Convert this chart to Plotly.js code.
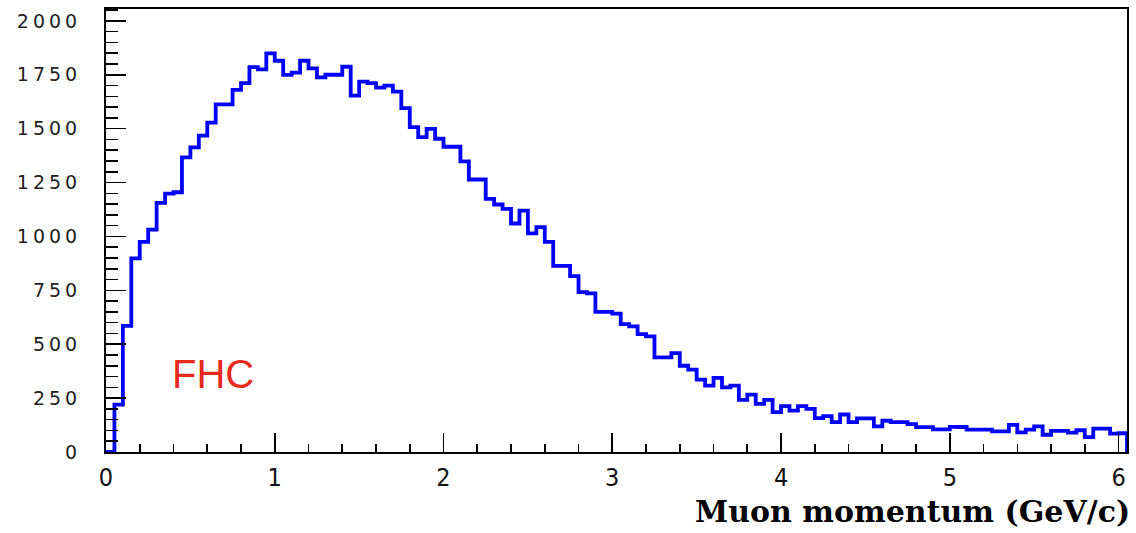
<!DOCTYPE html>
<html>
<head>
<meta charset="utf-8">
<script src="https://cdn.plot.ly/plotly-3.0.1.min.js"></script>
<style>
  html, body { margin: 0; padding: 0; background: #ffffff; }
  #chart { width: 1136px; height: 533px; }
  /* wide spacing for the count labels, like the bitmap font of the original plot */
  #chart .yaxislayer-above .ytick text { letter-spacing: 4px; }
</style>
</head>
<body>
<div id="chart"></div>
<script>
// Histogram definition: 121 bins of 0.05 GeV/c starting at 0
const binLow = 0;
const binWidth = 0.05;

// Entries per bin (muon momentum, FHC sample)
const counts = [
  0, 220, 585, 898, 975, 1032, 1156, 1199, 1205, 1367,
  1413, 1468, 1528, 1613, 1613, 1680, 1711, 1785, 1775, 1849,
  1815, 1749, 1760, 1815, 1780, 1738, 1750, 1750, 1787, 1653,
  1718, 1711, 1690, 1700, 1672, 1595, 1507, 1461, 1499, 1453,
  1416, 1416, 1348, 1264, 1264, 1174, 1148, 1128, 1060, 1120,
  1014, 1043, 975, 863, 863, 816, 742, 736, 650, 650,
  642, 593, 583, 547, 536, 439, 439, 459, 400, 382,
  336, 308, 344, 300, 308, 242, 266, 223, 242, 185,
  213, 192, 213, 200, 157, 166, 139, 174, 139, 156,
  156, 119, 145, 139, 139, 129, 115, 115, 105, 105,
  117, 116, 104, 104, 104, 96, 96, 126, 91, 104,
  119, 80, 98, 98, 90, 101, 69, 108, 108, 85,
  87
];

// Axis tick values
const yTicks = [0, 250, 500, 750, 1000, 1250, 1500, 1750, 2000];
const xTicks = [0, 1, 2, 3, 4, 5, 6];

const sampleLabel = 'FHC';
const xTitle = 'Muon momentum (GeV/c)';

// Build the step outline: left edge of every bin, then close on the last upper edge
const nBins = counts.length;
const stepX = [];
const stepY = [];
for (let i = 0; i < nBins; i++) {
  stepX.push(binLow + i * binWidth);
  stepY.push(counts[i]);
}
const xHigh = binLow + nBins * binWidth;
stepX.push(xHigh, xHigh);
stepY.push(counts[nBins - 1], 0);

const trace = {
  type: 'scatter',
  mode: 'lines',
  x: stepX,
  y: stepY,
  line: { shape: 'hv', color: '#0000ff', width: 3.8 },
  hoverinfo: 'skip',
  showlegend: false
};

const layout = {
  width: 1136,
  height: 533,
  margin: { l: 106, r: 9, t: 9, b: 81 },
  paper_bgcolor: '#ffffff',
  plot_bgcolor: '#ffffff',
  showlegend: false,
  xaxis: {
    range: [binLow, xHigh],
    tickmode: 'array',
    tickvals: xTicks,
    ticktext: xTicks.map(String),
    ticks: 'inside',
    ticklen: 19,
    tickwidth: 1.6,
    tickcolor: '#000000',
    minor: { dtick: 0.2, tick0: 0, ticks: 'inside', ticklen: 8, tickwidth: 1.6, tickcolor: '#000000', showgrid: false },
    showline: true,
    linecolor: '#000000',
    linewidth: 2,
    mirror: true,
    showgrid: false,
    zeroline: false,
    ticklabelstandoff: 2,
    tickfont: { family: 'Liberation Sans Narrow, DejaVu Sans Condensed, Liberation Sans, sans-serif', size: 25, color: '#111111' }
  },
  yaxis: {
    range: [0, 2055],
    tickmode: 'array',
    tickvals: yTicks,
    ticktext: yTicks.map(String),
    ticks: 'inside',
    ticklen: 20,
    tickwidth: 1.6,
    tickcolor: '#000000',
    minor: { dtick: 50, tick0: 0, ticks: 'inside', ticklen: 12, tickwidth: 1.6, tickcolor: '#000000', showgrid: false },
    showline: true,
    linecolor: '#000000',
    linewidth: 2,
    mirror: true,
    showgrid: false,
    zeroline: false,
    ticklabelstandoff: 19,
    tickfont: { family: 'DejaVu Sans, sans-serif', size: 19, color: '#222222' }
  },
  annotations: [
    {
      text: sampleLabel,
      xref: 'x', yref: 'y',
      x: 0.38, y: 363,
      xanchor: 'left', yanchor: 'middle',
      showarrow: false,
      font: { family: 'Liberation Sans, Arial, sans-serif', size: 40, color: '#e8291d' }
    },
    {
      text: xTitle,
      xref: 'paper', yref: 'paper',
      x: 1, y: -0.134,
      xshift: 5,
      xanchor: 'right', yanchor: 'middle',
      showarrow: false,
      font: { family: 'DejaVu Serif, serif', size: 30, weight: 'bold', color: '#000000' }
    }
  ]
};

Plotly.newPlot('chart', [trace], layout, { staticPlot: true, displayModeBar: false });
</script>
</body>
</html>
